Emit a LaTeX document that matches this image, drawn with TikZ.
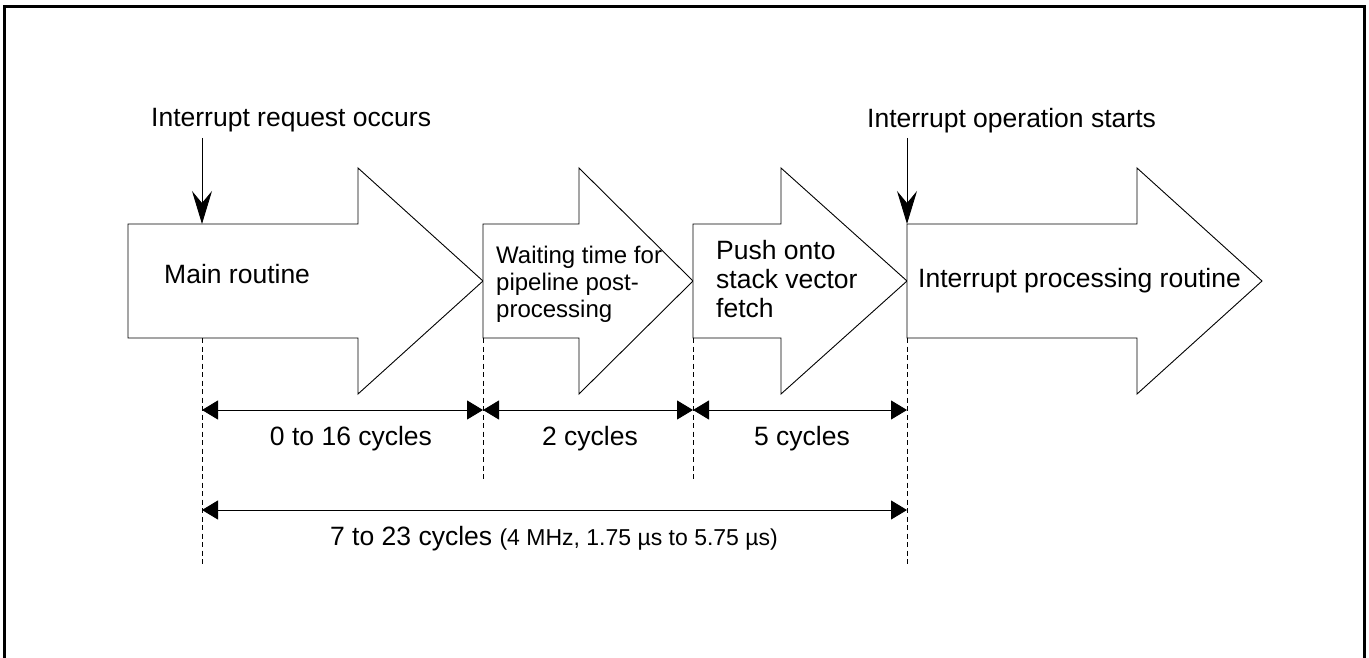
\documentclass[tikz,border=0pt]{standalone}
\usepackage{fontspec}
\setmainfont{Liberation Sans}
\usetikzlibrary{arrows.meta}
\begin{document}
\begin{tikzpicture}[x=1pt,y=-1pt,
  blockarrow/.style={draw=black, line width=0.9pt, fill=white, line join=miter},
  lbl/.style={inner sep=0pt, font=\fontsize{26.5}{29}\selectfont},
  smalllbl/.style={inner sep=0pt, font=\fontsize{24}{27}\selectfont},
  guide/.style={line width=0.9pt, dash pattern=on 5pt off 3.5pt},
  dim/.style={line width=0.9pt, {Triangle[length=16pt,width=19pt]}-{Triangle[length=16pt,width=19pt]}},
  event/.style={line width=0.9pt, -{Stealth[length=33pt,width=20pt,inset=12pt]}},
  framebox/.style={line width=3pt}]
\useasboundingbox (0,0) rectangle (1369,658);
\draw[framebox] (4,670) -- (4,7) -- (1364,7) -- (1364,670);

% block arrows
\draw[blockarrow] (128,224) -- (358,224) -- (358,168) -- (483,281) -- (358,394) -- (358,338) -- (128,338) -- cycle;
\draw[blockarrow] (483,224) -- (579,224) -- (579,168) -- (693,281) -- (579,394) -- (579,338) -- (483,338) -- cycle;
\draw[blockarrow] (693,224) -- (781,224) -- (781,168) -- (907,281) -- (781,394) -- (781,338) -- (693,338) -- cycle;
\draw[blockarrow] (907,224) -- (1137,224) -- (1137,168) -- (1262,281) -- (1137,394) -- (1137,338) -- (907,338) -- cycle;

% coordinates
\coordinate (reqS) at (202,138);
\coordinate (reqE) at (202,224);
\coordinate (opS) at (907,138);
\coordinate (opE) at (907,224);
\coordinate (g1t) at (202,338); \coordinate (g1b) at (202,567);
\coordinate (g2t) at (483,338); \coordinate (g2b) at (483,482);
\coordinate (g3t) at (693,338); \coordinate (g3b) at (693,482);
\coordinate (g4t) at (907,338); \coordinate (g4b) at (907,566);
\coordinate (d1) at (202,410); \coordinate (d2) at (483,410);
\coordinate (d3) at (693,410); \coordinate (d4) at (907,410);
\coordinate (t1) at (202,510); \coordinate (t2) at (907,510);

% labels
\node[lbl, anchor=base west] (req) at (151,127) {Interrupt request occurs};
\node[lbl, anchor=base west] (op) at (867,128) {Interrupt operation starts};
\node[lbl, anchor=base west] (main) at (164,283) {Main routine};
\node[smalllbl, anchor=base west, align=left] (wait) at (496,317) {Waiting time for\\pipeline post-\\processing};
\node[lbl, anchor=base west, align=left] (push) at (716,317) {Push onto\\stack vector\\fetch};
\node[lbl, anchor=base west] (irq) at (918,287) {Interrupt processing routine};

% events
\draw[event] (reqS) -- (reqE);
\draw[event] (opS) -- (opE);

% guides
\draw[guide] (g1t) -- (g1b);
\draw[guide] (g2t) -- (g2b);
\draw[guide] (g3t) -- (g3b);
\draw[guide] (g4t) -- (g4b);

% dimensions
\draw[dim] (d1) -- (d2);
\draw[dim] (d2) -- (d3);
\draw[dim] (d3) -- (d4);
\draw[dim] (t1) -- (t2);

\node[lbl, anchor=base] (c1) at (351,445) {0 to 16 cycles};
\node[lbl, anchor=base] (c2) at (590,445) {2 cycles};
\node[lbl, anchor=base] (c3) at (802,445) {5 cycles};
\node[lbl, anchor=base] (ct) at (554,545) {7 to 23 cycles {\fontsize{23}{26}\selectfont(4 MHz, 1.75 µs to 5.75 µs)}};
\end{tikzpicture}
\end{document}
